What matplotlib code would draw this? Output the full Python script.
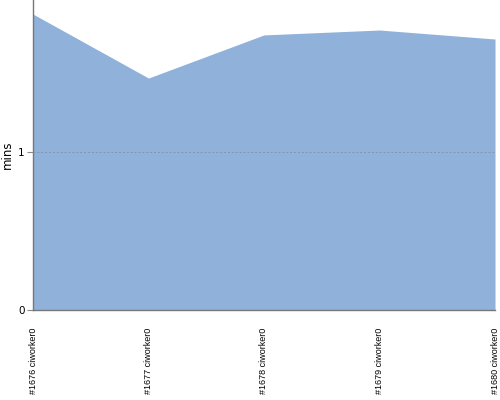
import matplotlib
matplotlib.use("Agg")
import matplotlib.pyplot as plt

builds = ["#1676 ciworker0", "#1677 ciworker0", "#1678 ciworker0", "#1679 ciworker0", "#1680 ciworker0"]
mins = [1.873, 1.468, 1.741, 1.772, 1.715]

fig = plt.figure(figsize=(5, 4), dpi=100)
ax = fig.add_axes([0.066, 0.225, 0.924, 0.775])
x = list(range(len(builds)))
ax.fill_between(x, mins, 0, color="#8fb1da", linewidth=0)
ax.set_xlim(0, len(builds) - 1)
ax.set_ylim(0, 1.962)
ax.set_yticks([0, 1])
ax.set_yticklabels(["0", "1"], fontsize=7.5)
ax.set_xticks(x)
ax.set_xticklabels(builds, rotation=90, fontsize=6.5, va="top", ha="center", family="Liberation Sans")
ax.tick_params(axis="x", length=0, pad=12.5)
ax.tick_params(axis="y", length=4, pad=2, color="#888888")
ax.axhline(1, color="#7f95b0", linestyle=(0, (2, 2)), linewidth=0.7, zorder=3)
ax.set_ylabel("mins", fontsize=8.5, labelpad=3)
for s in ["top", "right"]:
    ax.spines[s].set_visible(False)
for s in ["left", "bottom"]:
    ax.spines[s].set_color("#777777")
    ax.spines[s].set_linewidth(1)
fig.savefig("out.png", dpi=100)
